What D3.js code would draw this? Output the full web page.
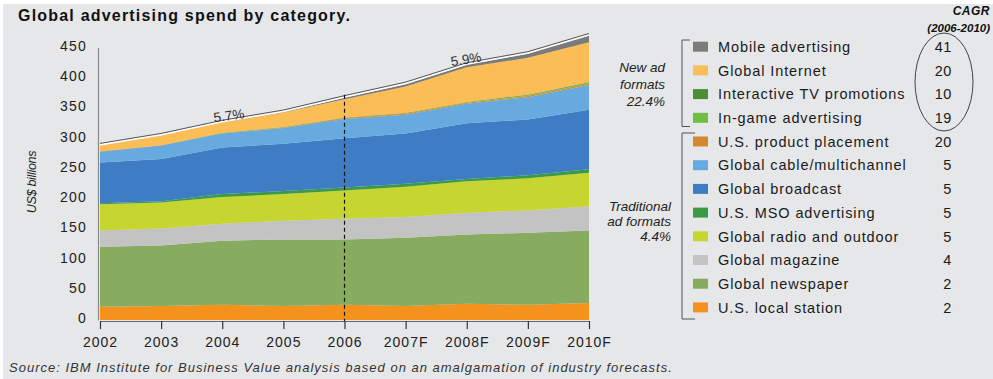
<!DOCTYPE html>
<html>
<head>
<meta charset="utf-8">
<script src="https://cdn.jsdelivr.net/npm/d3@7"></script>
<style>
  html, body { margin: 0; padding: 0; background: #ffffff; }
  svg { display: block; font-family: Arial, "Liberation Sans", Helvetica, sans-serif; }
</style>
</head>
<body>
<svg id="chart" width="993" height="379"></svg>
<script>
// Years on the horizontal axis (F = forecast)
const years = ["2002", "2003", "2004", "2005", "2006", "2007F", "2008F", "2009F", "2010F"];

// Spend per category, US$ billions, stacked bottom to top
const usLocalStation        = [22, 23, 25, 23, 25, 23, 27, 25, 28];
const globalNewspaper       = [99, 100, 106, 110, 108, 113, 114, 119, 120];
const globalMagazine        = [27, 28, 28, 31, 34, 34, 36, 37, 40];
const globalRadioOutdoor    = [43, 43, 44, 44, 47, 50, 52, 53, 55];
const usMsoAdvertising      = [2, 2, 5, 5, 5, 5, 4, 5, 6];
const globalBroadcast       = [67, 70, 77, 78, 81, 83, 92, 92, 98];
const globalCable           = [18, 22, 23, 26, 32, 31, 32, 37, 41];
const usProductPlacement    = [0.5, 0.5, 0.6, 1, 1.4, 1.5, 1.6, 2, 2.2];
const inGameAdvertising     = [0, 0, 0.3, 0.3, 0.5, 0.6, 0.8, 1, 1.2];
const interactiveTv         = [0, 0, 0.3, 0.3, 0.5, 0.6, 0.8, 1, 1.1];
const globalInternet        = [9.5, 16, 17, 24, 30, 44, 57, 61, 66];
const mobileAdvertising     = [0, 0, 0, 0.5, 2.5, 3.5, 4, 6.5, 11];

// Compound annual growth 2006-2010, percent (same order as the stack)
const cagr = [2, 2, 4, 5, 5, 5, 5, 20, 19, 10, 20, 41];

// Category names, bottom of the stack first
const categories = [
  "U.S. local station", "Global newspaper", "Global magazine", "Global radio and outdoor",
  "U.S. MSO advertising", "Global broadcast", "Global cable/multichannel", "U.S. product placement",
  "In-game advertising", "Interactive TV promotions", "Global Internet", "Mobile advertising"
];
const seriesValues = [
  usLocalStation, globalNewspaper, globalMagazine, globalRadioOutdoor, usMsoAdvertising,
  globalBroadcast, globalCable, usProductPlacement, inGameAdvertising, interactiveTv,
  globalInternet, mobileAdvertising
];
const yTicks = [0, 50, 100, 150, 200, 250, 300, 350, 400, 450];

const colors = [
  "#f5921e", "#87ab5f", "#c3c3c3", "#c6d530", "#3b9a45", "#3e7cc3",
  "#67aadf", "#d4892e", "#6fbf44", "#4b8f35", "#fbbd56", "#7b7b7b"
];

// Table for d3.stack: one row per year
const rows = years.map((yr, i) => {
  const r = { year: yr, i };
  categories.forEach((c, k) => { r[c] = seriesValues[k][i]; });
  return r;
});
const totals = rows.map(r => d3.sum(categories, c => r[c]));

const svg = d3.select("#chart");

// Panel background
svg.append("rect").attr("x", 3).attr("y", 4).attr("width", 990).attr("height", 375).attr("fill", "#e6e7e9");

const x = d3.scaleLinear().domain([0, years.length - 1]).range([100, 589]);
const y = d3.scaleLinear().domain([0, 450]).range([320, 47.5]);

const stack = d3.stack().keys(categories)(rows);
const area = d3.area()
  .x(d => x(d.data.i))
  .y0(d => y(d[0]))
  .y1(d => y(d[1]));

svg.append("g").selectAll("path")
  .data(stack)
  .join("path")
  .attr("d", area)
  .attr("fill", (d, k) => colors[k]);

// Outline above the total
const totalLine = d3.line().x((d, i) => x(i)).y(d => y(d));
svg.append("path").datum(totals)
  .attr("d", totalLine).attr("fill", "none")
  .attr("stroke", "#ffffff").attr("stroke-width", 1.4)
  .attr("transform", "translate(0,-0.8)");
svg.append("path").datum(totals)
  .attr("d", totalLine).attr("fill", "none")
  .attr("stroke", "#555555").attr("stroke-width", 1)
  .attr("transform", "translate(0,-2.2)");

// Divider between actuals and forecasts
svg.append("line")
  .attr("x1", x(4)).attr("x2", x(4))
  .attr("y1", y(totals[4]) - 3).attr("y2", y(0) + 1)
  .attr("stroke", "#111").attr("stroke-width", 1.2)
  .attr("stroke-dasharray", "4,3");

// Y axis
const yAxis = svg.append("g")
  .attr("transform", `translate(${x(0) - 2},0)`)
  .call(d3.axisLeft(y).tickValues(yTicks).tickSize(0).tickPadding(11));
yAxis.select(".domain").attr("stroke", "#8a8a8a").attr("stroke-width", 1.2);
yAxis.selectAll("text")
  .attr("font-size", 14).attr("fill", "#222")
  .attr("letter-spacing", 1.2).attr("dy", "0.2em")
  .style("font-family", "Arial, 'Liberation Sans', sans-serif");

// X axis
const xAxis = svg.append("g")
  .attr("transform", `translate(0,${y(0) + 1})`)
  .call(d3.axisBottom(x).tickValues(d3.range(years.length)).tickFormat(i => years[i]).tickSize(8).tickPadding(8));
xAxis.select(".domain").attr("stroke", "#666").attr("stroke-width", 1);
xAxis.selectAll(".tick line").attr("stroke", "#333").attr("stroke-width", 1.2);
xAxis.selectAll("text")
  .attr("font-size", 14).attr("fill", "#222").attr("letter-spacing", 1)
  .style("font-family", "Arial, 'Liberation Sans', sans-serif");

// Growth-rate annotations along the total
svg.append("text")
  .attr("transform", `translate(${x(2.12)},${y(330)}) rotate(-8)`)
  .attr("text-anchor", "middle").attr("font-size", 13.5).attr("fill", "#333")
  .text("5.7%");
svg.append("text")
  .attr("transform", `translate(${x(6.0)},${y(423)}) rotate(-9)`)
  .attr("text-anchor", "middle").attr("font-size", 13.5).attr("fill", "#333")
  .text("5.9%");

// Title
svg.append("text")
  .attr("x", 18).attr("y", 21)
  .attr("font-size", 16).attr("font-weight", "bold").attr("letter-spacing", 1.2)
  .attr("fill", "#111")
  .text("Global advertising spend by category.");

// Y axis title
svg.append("text")
  .attr("transform", "translate(36,182) rotate(-90)")
  .attr("text-anchor", "middle").attr("font-size", 12.5).attr("font-style", "italic")
  .attr("fill", "#222").attr("letter-spacing", -0.3)
  .text("US$ billions");

// Source note
svg.append("text")
  .attr("x", 9).attr("y", 372)
  .attr("font-size", 13).attr("font-style", "italic").attr("fill", "#333")
  .attr("letter-spacing", 1)
  .text("Source: IBM Institute for Business Value analysis based on an amalgamation of industry forecasts.");

// Legend, top of the stack first
const legendTop = 46.7, legendStep = 23.7;
const legendIdx = d3.range(categories.length).reverse();
const legend = svg.append("g");
legendIdx.forEach((k, row) => {
  const cy = legendTop + row * legendStep;
  legend.append("rect")
    .attr("x", 693).attr("y", cy - 5).attr("width", 15).attr("height", 10)
    .attr("fill", colors[k]);
  legend.append("text")
    .attr("x", 718).attr("y", cy).attr("dy", "0.36em")
    .attr("font-size", 14.5).attr("letter-spacing", 0.9).attr("fill", "#1a1a1a")
    .text(categories[k]);
  legend.append("text")
    .attr("x", 952).attr("y", cy).attr("dy", "0.36em")
    .attr("text-anchor", "end")
    .attr("font-size", 14.5).attr("letter-spacing", 0.6).attr("fill", "#1a1a1a")
    .text(cagr[k]);
});

// CAGR header
svg.append("text")
  .attr("x", 990).attr("y", 15).attr("text-anchor", "end")
  .attr("font-size", 12).attr("font-weight", "bold").attr("font-style", "italic")
  .attr("fill", "#111").attr("letter-spacing", 0.5)
  .text("CAGR");
svg.append("text")
  .attr("x", 990).attr("y", 32).attr("text-anchor", "end")
  .attr("font-size", 11.5).attr("font-weight", "bold").attr("font-style", "italic")
  .attr("fill", "#111").attr("letter-spacing", 0)
  .text("(2006-2010)");

// Ring around the new-format growth rates
svg.append("ellipse")
  .attr("cx", 944).attr("cy", 82).attr("rx", 29).attr("ry", 49)
  .attr("fill", "none").attr("stroke", "#444").attr("stroke-width", 1);

// Group brackets
const groupBracket = (y1, y2, reach) =>
  `M${reach},${y1} H682 V${y2} H${reach}`;
svg.append("path").attr("d", groupBracket(40, 126.5, 690))
  .attr("fill", "none").attr("stroke", "#555").attr("stroke-width", 1);
svg.append("path").attr("d", groupBracket(133, 319, 695))
  .attr("fill", "none").attr("stroke", "#555").attr("stroke-width", 1);

// Group labels
const groupLabel = (lines, xr, y0, step) => {
  const t = svg.append("text")
    .attr("text-anchor", "end").attr("font-size", 13.5)
    .attr("font-style", "italic").attr("fill", "#222");
  lines.forEach((s, i) => {
    t.append("tspan").attr("x", xr).attr("y", y0 + i * step).text(s);
  });
};
groupLabel(["New ad", "formats", "22.4%"], 665, 72, 17);
groupLabel(["Traditional", "ad formats", "4.4%"], 671, 211, 15);
</script>
</body>
</html>
